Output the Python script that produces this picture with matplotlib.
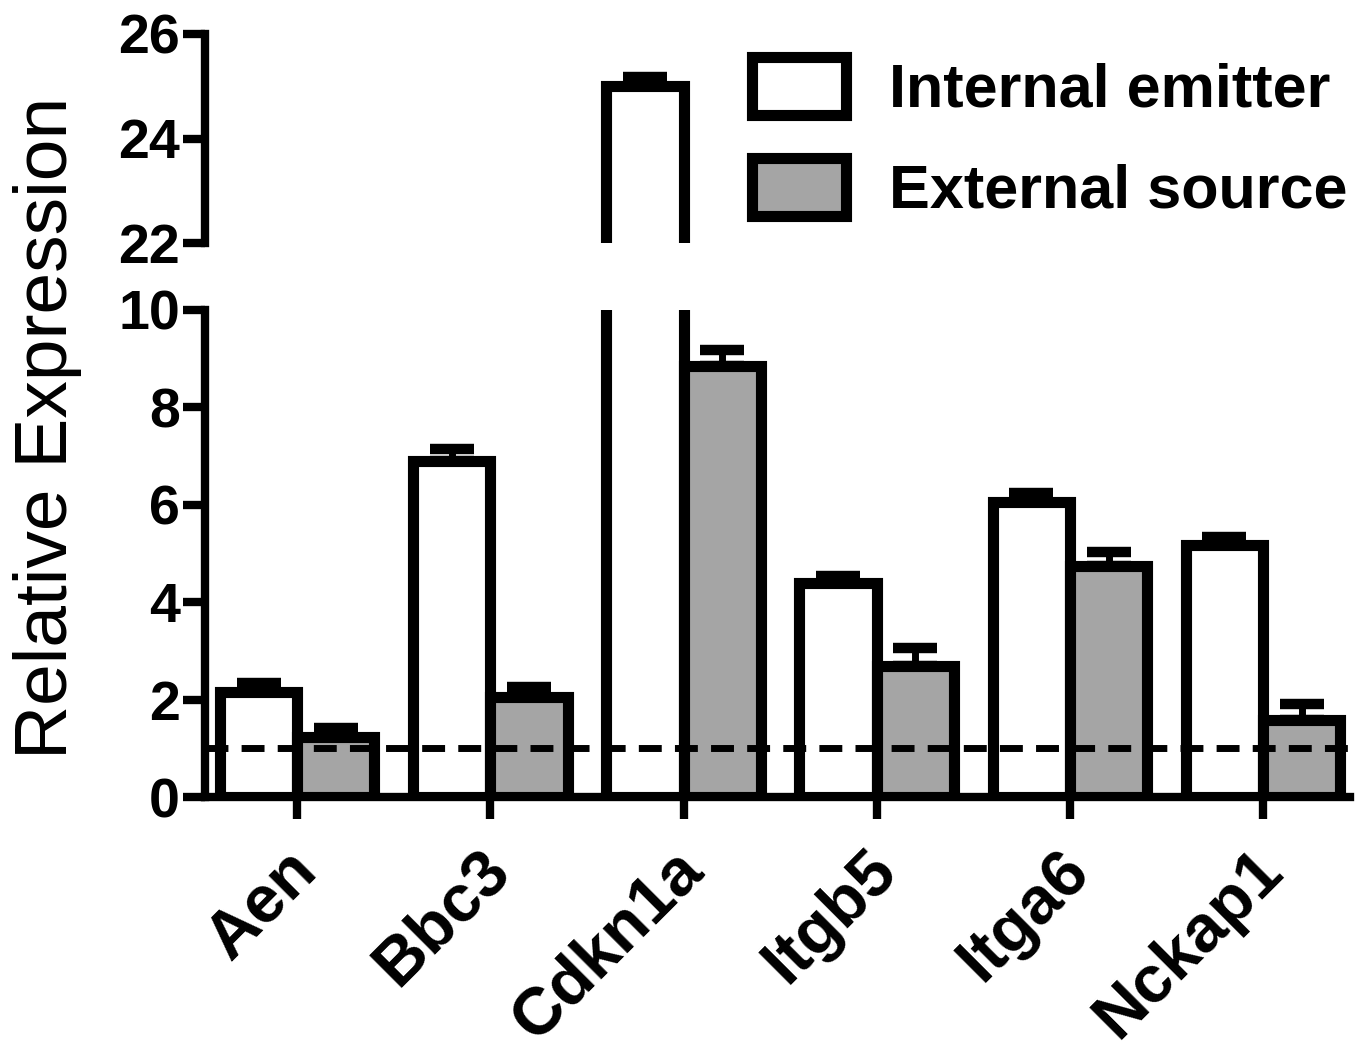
import matplotlib
matplotlib.use("Agg")
import matplotlib.pyplot as plt
import matplotlib.transforms as mtransforms
import numpy as np
from matplotlib.patches import Patch

genes = ["Aen", "Bbc3", "Cdkn1a", "Itgb5", "Itga6", "Nckap1"]
internal = [2.15, 6.90, 25.0, 4.40, 6.06, 5.18]
internal_err = [0.20, 0.25, 0.18, 0.13, 0.18, 0.16]
external = [1.24, 2.06, 8.85, 2.70, 4.74, 1.59]
external_err = [0.18, 0.20, 0.33, 0.35, 0.30, 0.31]
series_labels = ["Internal emitter", "External source"]
baseline = 1.0
top_ticks = [22, 24, 26]
bottom_ticks = [0, 2, 4, 6, 8, 10]

plt.rcParams['font.family'] = ['Liberation Sans', 'DejaVu Sans']

W, H = 1361, 1061
fig = plt.figure(figsize=(W / 100, H / 100), dpi=100)

def fx(px):
    return px / W

def fy(py):
    return 1 - py / H

left, right = fx(205), fx(1350)
ax_top = fig.add_axes([left, fy(243), right - left, fy(34) - fy(243)])
ax_bot = fig.add_axes([left, fy(797), right - left, fy(310) - fy(797)])

x = np.arange(len(genes))
bw = 0.40
grey = "#a5a5a5"
LW = 8
for ax in (ax_top, ax_bot):
    ax.bar(x - bw / 2, internal, bw, color="white", edgecolor="black",
           linewidth=LW, zorder=2)
    ax.bar(x + bw / 2, external, bw, color=grey, edgecolor="black",
           linewidth=LW, zorder=2)
    ax.errorbar(x - bw / 2, internal, yerr=[np.zeros(len(x)), internal_err],
                fmt="none", ecolor="black", elinewidth=5, capsize=16,
                capthick=7.5, zorder=1)
    ax.errorbar(x + bw / 2, external, yerr=[np.zeros(len(x)), external_err],
                fmt="none", ecolor="black", elinewidth=5, capsize=16,
                capthick=7.5, zorder=1)
    ax.set_xlim(-0.477, 5.45)
    for s in ("top", "right"):
        ax.spines[s].set_visible(False)
    ax.spines["left"].set_linewidth(6)
    ax.spines["bottom"].set_linewidth(6)
    ax.tick_params(axis="y", which="major", length=16, width=6, pad=2,
                   labelsize=40)
    ax.tick_params(axis="y", which="minor", direction="in", length=10,
                   width=6)

ax_top.set_ylim(22, 26)
ax_top.set_yticks(top_ticks)
ax_top.set_yticks([top_ticks[0]], minor=True)
ax_top.spines["bottom"].set_visible(False)
ax_top.tick_params(axis="x", bottom=False, labelbottom=False)

ax_bot.set_ylim(0, 10)
ax_bot.set_yticks(bottom_ticks)
ax_bot.set_yticks([bottom_ticks[-1]], minor=True)
ax_bot.set_xticks(x)
ax_bot.set_xticklabels(genes, rotation=45, ha="right", va="center",
                       rotation_mode="anchor", fontsize=48, fontweight="bold")
ax_bot.tick_params(axis="x", length=16, width=6, pad=30)
off = mtransforms.ScaledTranslation(0.10, 0, fig.dpi_scale_trans)
for lab in ax_bot.get_xticklabels():
    lab.set_transform(lab.get_transform() + off)
for ax in (ax_top, ax_bot):
    for lab in ax.get_yticklabels():
        lab.set_fontweight("bold")

dl, = ax_bot.plot([-0.477, 5.45], [baseline, baseline], color="black",
                  linewidth=5, zorder=5)
dl.set_dashes((3.3, 1.9))

fig.text(fx(48), fy(428), "Relative Expression", rotation=90, ha="center",
         va="center", fontsize=54)

handles = [Patch(facecolor="white", edgecolor="black", linewidth=LW),
           Patch(facecolor=grey, edgecolor="black", linewidth=LW)]
ax_top.legend(handles, series_labels, loc="upper left",
              bbox_to_anchor=(fx(752), fy(57)), bbox_transform=fig.transFigure,
              frameon=False, borderpad=0, borderaxespad=0, handlelength=1.54,
              handleheight=1.08, handletextpad=0.7, labelspacing=0.62,
              prop={"size": 44, "weight": "bold"})

fig.savefig("out.png", dpi=100)
